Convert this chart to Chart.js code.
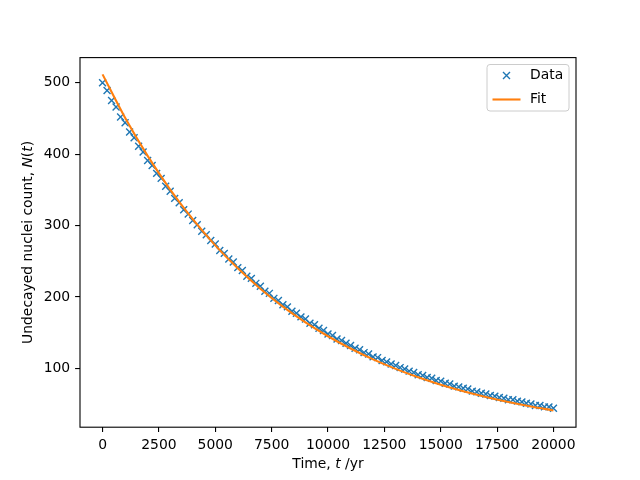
<!DOCTYPE html>
<html>
<head>
<meta charset="utf-8">
<script src="https://cdn.jsdelivr.net/npm/chart.js@4/dist/chart.umd.min.js"></script>
<style>
  html, body { margin: 0; padding: 0; background: #fff; }
  canvas { display: block; }
</style>
</head>
<body>
<canvas id="myChart" width="640" height="480"></canvas>
<script>
// measured decay data (every 200 yr)
var times = [0, 200, 400, 600, 800, 1000, 1200, 1400, 1600, 1800,
  2000, 2200, 2400, 2600, 2800, 3000, 3200, 3400, 3600, 3800,
  4000, 4200, 4400, 4600, 4800, 5000, 5200, 5400, 5600, 5800,
  6000, 6200, 6400, 6600, 6800, 7000, 7200, 7400, 7600, 7800,
  8000, 8200, 8400, 8600, 8800, 9000, 9200, 9400, 9600, 9800,
  10000, 10200, 10400, 10600, 10800, 11000, 11200, 11400, 11600, 11800,
  12000, 12200, 12400, 12600, 12800, 13000, 13200, 13400, 13600, 13800,
  14000, 14200, 14400, 14600, 14800, 15000, 15200, 15400, 15600, 15800,
  16000, 16200, 16400, 16600, 16800, 17000, 17200, 17400, 17600, 17800,
  18000, 18200, 18400, 18600, 18800, 19000, 19200, 19400, 19600, 19800, 20000]
var counts = [500, 489, 475, 466, 452, 444, 431, 423, 411, 403,
  391, 384, 373, 366, 355, 348, 338, 332, 322, 316,
  307, 301, 292, 287, 279, 274, 265, 261, 253, 249,
  241, 237, 229, 226, 219, 215, 208, 205, 198, 195,
  189, 186, 180, 177, 172, 169, 163, 161, 156, 153,
  148, 146, 141, 139, 135, 132, 128, 126, 122, 120,
  116, 115, 111, 109, 106, 104, 101, 99, 96, 94,
  91, 90, 87, 86, 83, 82, 79, 78, 75, 74,
  72, 71, 68, 67, 65, 64, 62, 61, 59, 58,
  56, 56, 54, 53, 51, 50, 48, 48, 46, 46, 44]

// fitted curve read every 1000 yr
var fitTimes = [0, 1000, 2000, 3000, 4000, 5000, 6000, 7000, 8000, 9000, 10000,
  11000, 12000, 13000, 14000, 15000, 16000, 17000, 18000, 19000, 20000]
var fitCounts = [511.7, 451.0, 397.5, 350.4, 308.9, 272.2, 240.0, 211.5, 186.4, 164.3, 144.9,
  127.7, 112.5, 99.2, 87.4, 77.1, 67.9, 59.9, 52.8, 46.5, 41.0]

var xTicks = [0, 2500, 5000, 7500, 10000, 12500, 15000, 17500, 20000]
var yTicks = [100, 200, 300, 400, 500]
var legendLabels = ["Data", "Fit"]

var blue = "#1f77b4", orange = "#ff7f0e"
var fontFam = "'DejaVu Sans', sans-serif"
var fs = 13.9

function pts(xs, ys){
  var out = []
  for (var i = 0; i < xs.length; i++) out.push({x: xs[i], y: ys[i]})
  return out
}

// draw a label made of upright / italic pieces, centred on (x,y)
function drawParts(ctx, parts, x, y, angle){
  ctx.save()
  ctx.translate(x, y)
  ctx.rotate(angle)
  ctx.fillStyle = "#000"
  ctx.textBaseline = "middle"
  ctx.textAlign = "left"
  var total = 0
  parts.forEach(function(p){
    ctx.font = (p[1] ? "italic " : "") + fs + "px " + fontFam
    total += ctx.measureText(p[0]).width
  })
  var cx = -total / 2
  parts.forEach(function(p){
    ctx.font = (p[1] ? "italic " : "") + fs + "px " + fontFam
    ctx.fillText(p[0], cx, 0)
    cx += ctx.measureText(p[0]).width
  })
  ctx.restore()
}

var framePlugin = {
  id: "frame",
  afterDraw: function(chart){
    var ctx = chart.ctx, a = chart.chartArea
    ctx.save()
    // axes box
    ctx.strokeStyle = "#000"
    ctx.lineWidth = 1.1
    ctx.strokeRect(a.left, a.top, a.right - a.left, a.bottom - a.top)

    // axis titles
    drawParts(ctx, [["Time, ", false], ["t", true], [" /yr", false]], (a.left + a.right) / 2, 464, 0)
    drawParts(ctx, [["Undecayed nuclei count, ", false], ["N", true], ["(", false], ["t", true], [")", false]],
      28, (a.top + a.bottom) / 2, -Math.PI / 2)

    // legend box, upper right
    var bx = 487, by = 64.5, bw = 82, bh = 46.5, r = 3
    ctx.beginPath()
    ctx.moveTo(bx + r, by)
    ctx.arcTo(bx + bw, by, bx + bw, by + bh, r)
    ctx.arcTo(bx + bw, by + bh, bx, by + bh, r)
    ctx.arcTo(bx, by + bh, bx, by, r)
    ctx.arcTo(bx, by, bx + bw, by, r)
    ctx.closePath()
    ctx.fillStyle = "rgba(255,255,255,0.8)"
    ctx.fill()
    ctx.strokeStyle = "#cccccc"
    ctx.lineWidth = 1
    ctx.stroke()

    // Data marker
    var mx = 506.5, my = 75.5, h = 3.5
    ctx.strokeStyle = blue
    ctx.lineWidth = 1.4
    ctx.beginPath()
    ctx.moveTo(mx - h, my - h); ctx.lineTo(mx + h, my + h)
    ctx.moveTo(mx - h, my + h); ctx.lineTo(mx + h, my - h)
    ctx.stroke()
    // Fit line sample
    ctx.strokeStyle = orange
    ctx.lineWidth = 2.1
    ctx.beginPath()
    ctx.moveTo(492.5, 99.5); ctx.lineTo(520.5, 99.5)
    ctx.stroke()

    ctx.fillStyle = "#000"
    ctx.font = fs + "px " + fontFam
    ctx.textBaseline = "middle"
    ctx.textAlign = "left"
    ctx.fillText(legendLabels[0], 530, 75.5)
    ctx.fillText(legendLabels[1], 530, 99.5)
    ctx.restore()
  }
}

var myChart = document.getElementById("myChart").getContext("2d")
var chart = new Chart(myChart, {
  type: "scatter",
  data: {
    datasets: [
      {
        label: legendLabels[0],
        data: pts(times, counts),
        showLine: false,
        pointStyle: "crossRot",
        pointRadius: 4.9,
        pointHoverRadius: 4.9,
        borderColor: blue,
        backgroundColor: blue,
        borderWidth: 1.4,
        order: 1
      },
      {
        label: legendLabels[1],
        data: pts(fitTimes, fitCounts),
        showLine: true,
        pointRadius: 0,
        borderColor: orange,
        backgroundColor: orange,
        borderWidth: 2.1,
        cubicInterpolationMode: "monotone",
        fill: false,
        order: 0
      }
    ]
  },
  options: {
    responsive: false,
    animation: false,
    devicePixelRatio: 1,
    layout: { padding: { left: 0, right: 64, top: 57.6, bottom: 0 } },
    plugins: { legend: { display: false }, tooltip: { enabled: false } },
    scales: {
      x: {
        type: "linear",
        min: -1000,
        max: 21000,
        afterFit: function(s){ s.height = 52.8 },
        afterBuildTicks: function(s){ s.ticks = xTicks.map(function(v){ return {value: v} }) },
        border: { display: false },
        grid: { drawOnChartArea: false, drawTicks: true, tickLength: 4.9, color: "#000", lineWidth: 1.1 },
        ticks: {
          maxRotation: 0,
          autoSkip: false,
          padding: 5,
          color: "#000",
          font: { family: fontFam, size: fs },
          callback: function(v){ return String(v) }
        }
      },
      y: {
        type: "linear",
        min: 17.5,
        max: 535.2,
        afterFit: function(s){ s.width = 80 },
        afterBuildTicks: function(s){ s.ticks = yTicks.map(function(v){ return {value: v} }) },
        border: { display: false },
        grid: { drawOnChartArea: false, drawTicks: true, tickLength: 4.9, color: "#000", lineWidth: 1.1 },
        ticks: {
          autoSkip: false,
          padding: 4.9,
          color: "#000",
          font: { family: fontFam, size: fs },
          callback: function(v){ return String(v) }
        }
      }
    }
  },
  plugins: [framePlugin]
})
</script>
</body>
</html>
